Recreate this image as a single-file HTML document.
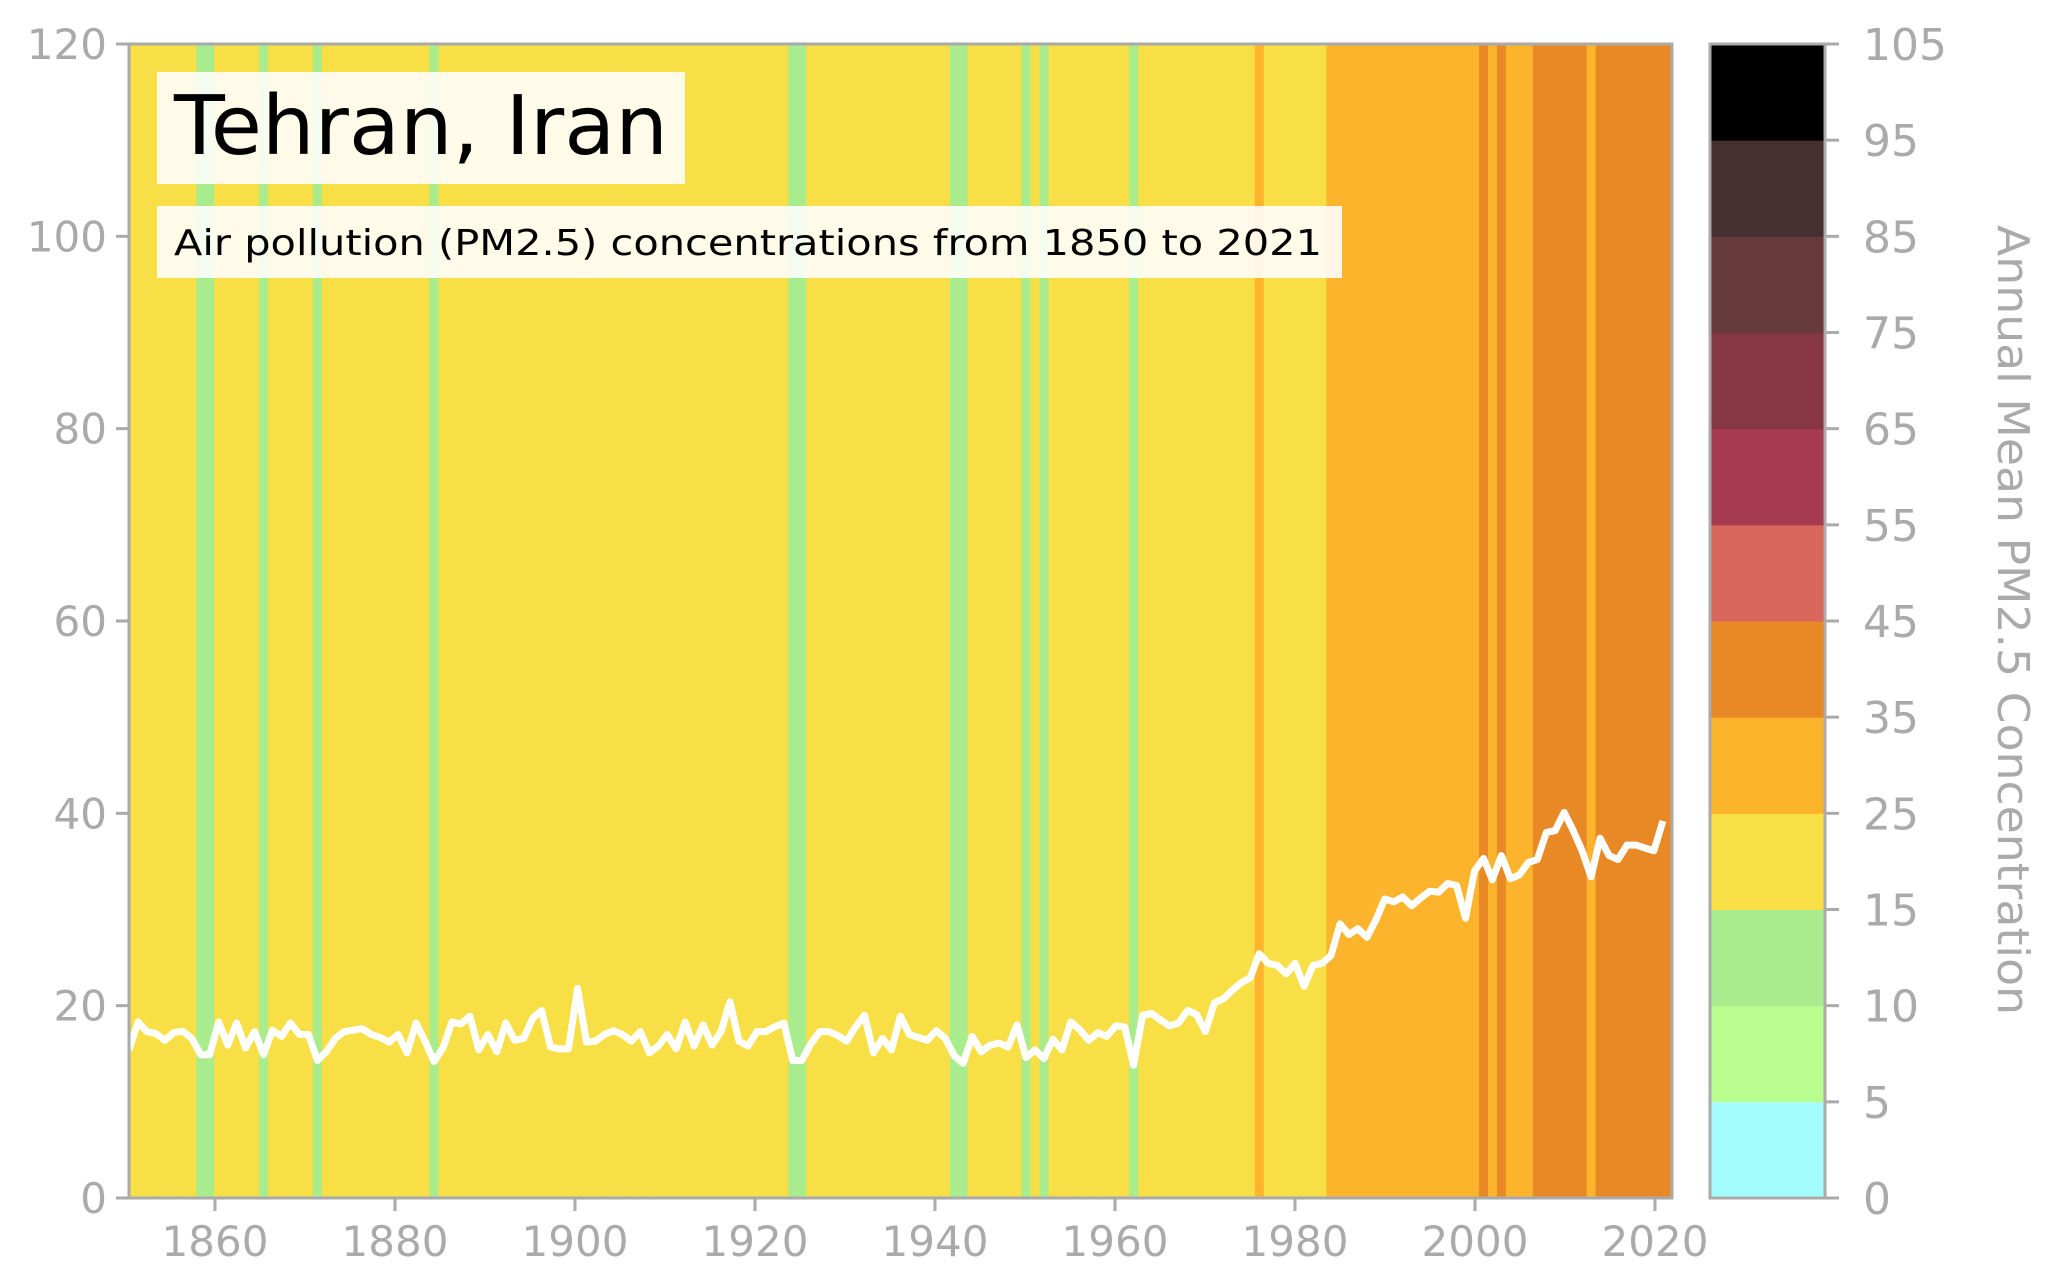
<!DOCTYPE html>
<html><head><meta charset="utf-8">
<style>
html,body{margin:0;padding:0;background:#fff;}
svg{display:block;font-family:"DejaVu Sans","Liberation Sans",sans-serif;}
</style></head>
<body>
<svg id="chart" width="2057" height="1284" viewBox="0 0 2057 1284" xmlns="http://www.w3.org/2000/svg">
  <defs><clipPath id="plotclip"><rect x="129" y="44" width="1543" height="1154"/></clipPath></defs>
  <g id="stripes" clip-path="url(#plotclip)"></g>
  <polyline id="line" fill="none" stroke="#ffffff" stroke-width="7" stroke-linejoin="round" clip-path="url(#plotclip)"></polyline>
  <rect x="129" y="44" width="1543" height="1154" fill="none" stroke="#aaaaaa" stroke-width="3"/>
  <g id="yaxis"></g>
  <g id="xaxis"></g>
  <rect x="157" y="72" width="528" height="112" fill="#ffffff" fill-opacity="0.88"/>
  <text x="174" y="154" font-size="82" fill="#000" textLength="494" lengthAdjust="spacingAndGlyphs">Tehran, Iran</text>
  <rect x="157" y="206" width="1185" height="72" fill="#ffffff" fill-opacity="0.88"/>
  <text x="174" y="255" font-size="36" fill="#000" textLength="1148" lengthAdjust="spacingAndGlyphs">Air pollution (PM2.5) concentrations from 1850 to 2021</text>
  <g id="cbar"></g>
  <text transform="translate(1998,620) rotate(90)" text-anchor="middle" font-size="44" fill="#aaaaaa" textLength="790" lengthAdjust="spacingAndGlyphs">Annual Mean PM2.5 Concentration</text>
</svg>
<script>
const years = [];
for (let y = 1850; y <= 2021; y++) years.push(y);
const pm25 = [
15.4,18.3,17.3,17.1,16.4,17.2,17.35,16.6,14.9,14.9,
18.3,15.9,18.2,15.6,17.3,14.9,17.45,16.8,18.2,17.0,
17.0,14.3,15.2,16.6,17.3,17.45,17.6,17.0,16.7,16.2,
17.0,15.1,18.2,16.3,14.2,15.6,18.3,18.1,18.9,15.4,
17.0,15.2,18.2,16.4,16.6,18.7,19.5,15.7,15.5,15.5,
21.8,16.2,16.3,17.0,17.4,17.0,16.3,17.3,15.1,15.8,
17.0,15.5,18.3,15.8,18.0,15.9,17.3,20.4,16.3,15.8,
17.3,17.3,17.8,18.2,14.3,14.3,16.0,17.3,17.3,16.9,
16.3,17.8,19.0,15.1,16.6,15.4,18.9,17.0,16.7,16.4,
17.4,16.6,14.8,14.0,16.8,15.2,15.9,16.1,15.7,18.0,
14.6,15.4,14.5,16.5,15.4,18.3,17.5,16.4,17.2,16.8,
17.9,17.8,13.8,19.0,19.2,18.5,17.9,18.2,19.5,19.1,
17.3,20.3,20.7,21.6,22.4,22.9,25.4,24.4,24.2,23.3,
24.4,22.0,24.2,24.4,25.2,28.5,27.4,28.0,27.1,28.9,
31.1,30.8,31.3,30.4,31.2,31.9,31.8,32.7,32.5,29.1,
34.0,35.3,33.1,35.6,33.2,33.6,34.9,35.2,38.0,38.2,
40.1,38.2,36.1,33.4,37.4,35.6,35.2,36.7,36.7,36.4,
36.1,39.2
];
const binEdges = [0,5,10,15,25,35,45,55,65,75,85,95,105];
const binColors = ["#a3fdfd","#b9fd8f","#a9ec8e","#f8df46","#fbb42c","#e88926","#d9665a","#a53a50","#873743","#673a3c","#462f30","#000000"];
const yTicks = [0,20,40,60,80,100,120];
const xTicks = [1860,1880,1900,1920,1940,1960,1980,2000,2020];

const NS = "http://www.w3.org/2000/svg";
const L = 129, R = 1671.7, T = 44, B = 1198;
const X0 = 1850, XPX = 8.97, XSTART = 129;
const X = y => XSTART + (y - X0) * XPX;
const TICKX = t => 1655 + (t - 2020) * 9.0;
const Y = v => B - (v / 120) * (B - T);
function colorFor(v){ for (let i = 0; i < binColors.length; i++) if (v < binEdges[i+1]) return binColors[i]; return binColors[binColors.length-1]; }
function mk(tag, attrs, parent){ const e = document.createElementNS(NS, tag); for (const k in attrs) e.setAttribute(k, attrs[k]); parent.appendChild(e); return e; }

const stripes = document.getElementById('stripes');
years.forEach((yr, i) => {
  const x1 = X(yr) - XPX/2, x2 = X(yr) + XPX/2 + (i === years.length - 1 ? 20 : 0);
  const r = mk('rect', {x: x1, y: T, width: x2 - x1 + 0.6, height: B - T, fill: colorFor(pm25[i])}, stripes);
  
  
});
document.getElementById('line').setAttribute('points', years.map((yr, i) => X(yr).toFixed(1) + ',' + Y(pm25[i]).toFixed(1)).join(' '));

const ya = document.getElementById('yaxis');
yTicks.forEach(t => {
  const l = mk('line', {x1: L - 13, x2: L, y1: Y(t), y2: Y(t), stroke: '#aaaaaa', 'stroke-width': 3}, ya);
  
  
  const tx = mk('text', {x: L - 22, y: Y(t) + 15, 'text-anchor': 'end', 'font-size': 42, fill: '#aaaaaa'}, ya);
  tx.textContent = t;
  
  
});
const xa = document.getElementById('xaxis');
xTicks.forEach(t => {
  const l = mk('line', {x1: TICKX(t), x2: TICKX(t), y1: B, y2: B + 13, stroke: '#aaaaaa', 'stroke-width': 3}, xa);
  
  
  const tx = mk('text', {x: TICKX(t), y: B + 58, 'text-anchor': 'middle', 'font-size': 42, fill: '#aaaaaa'}, xa);
  tx.textContent = t;
  
  
});

const cb = document.getElementById('cbar');
const CL = 1710, CR = 1825, segH = (B - T) / binColors.length;
binColors.forEach((c, i) => {
  const r = mk('rect', {x: CL, y: B - (i+1)*segH, width: CR - CL, height: segH + 0.5, fill: c}, cb);
  
  
});
const fr = mk('rect', {x: CL, y: T, width: CR - CL, height: B - T, fill: 'none', stroke: '#aaaaaa', 'stroke-width': 3}, cb);


binEdges.forEach((e, i) => {
  const yy = B - i * segH;
  const l = mk('line', {x1: CR, x2: CR + 14, y1: yy, y2: yy, stroke: '#aaaaaa', 'stroke-width': 3}, cb);
  
  
  const tx = mk('text', {x: 1863, y: yy + 16, 'font-size': 44, fill: '#aaaaaa'}, cb);
  tx.textContent = e;
  
  
});
</script>
</body></html>
